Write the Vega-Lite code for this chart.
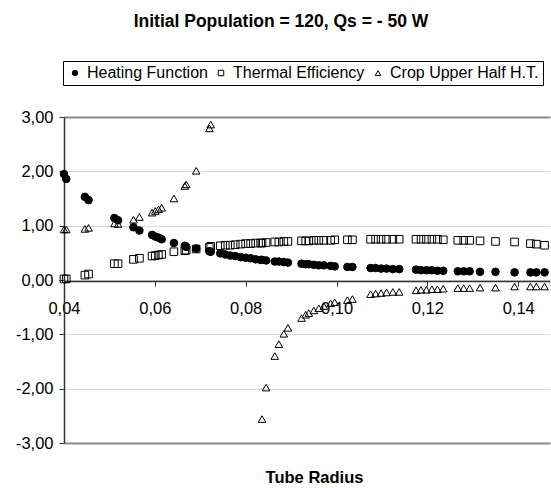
{
  "$schema": "https://vega.github.io/schema/vega-lite/v6.json",
  "width": 486,
  "height": 326,
  "autosize": {"type": "none"},
  "padding": {"left": 64, "top": 117, "right": 1, "bottom": 45},
  "title": {"text": "Initial Population = 120, Qs = - 50 W", "anchor": "middle", "frame": "group", "dx": -26, "offset": 30, "fontSize": 17.5, "fontWeight": "bold", "font": "Liberation Sans", "color": "#000"},
  "data": {"values": [
    {"x":0.0400,"s":"Heating Function","y":1.95},{"x":0.0400,"s":"Thermal Efficiency","y":0.02},{"x":0.0400,"s":"Crop Upper Half H.T.","y":0.93},
    {"x":0.0405,"s":"Heating Function","y":1.86},{"x":0.0405,"s":"Thermal Efficiency","y":0.02},{"x":0.0405,"s":"Crop Upper Half H.T.","y":0.93},
    {"x":0.0446,"s":"Heating Function","y":1.53},{"x":0.0446,"s":"Thermal Efficiency","y":0.09},{"x":0.0446,"s":"Crop Upper Half H.T.","y":0.94},
    {"x":0.0454,"s":"Heating Function","y":1.47},{"x":0.0454,"s":"Thermal Efficiency","y":0.11},{"x":0.0454,"s":"Crop Upper Half H.T.","y":0.96},
    {"x":0.0511,"s":"Heating Function","y":1.14},{"x":0.0511,"s":"Thermal Efficiency","y":0.30},{"x":0.0511,"s":"Crop Upper Half H.T.","y":1.04},
    {"x":0.0519,"s":"Heating Function","y":1.10},{"x":0.0519,"s":"Thermal Efficiency","y":0.30},{"x":0.0519,"s":"Crop Upper Half H.T.","y":1.03},
    {"x":0.0553,"s":"Heating Function","y":0.97},{"x":0.0553,"s":"Thermal Efficiency","y":0.38},{"x":0.0553,"s":"Crop Upper Half H.T.","y":1.11},
    {"x":0.0566,"s":"Heating Function","y":0.91},{"x":0.0566,"s":"Thermal Efficiency","y":0.40},{"x":0.0566,"s":"Crop Upper Half H.T.","y":1.16},
    {"x":0.0594,"s":"Heating Function","y":0.83},{"x":0.0594,"s":"Thermal Efficiency","y":0.44},{"x":0.0594,"s":"Crop Upper Half H.T.","y":1.24},
    {"x":0.0601,"s":"Heating Function","y":0.80},{"x":0.0601,"s":"Thermal Efficiency","y":0.45},{"x":0.0601,"s":"Crop Upper Half H.T.","y":1.27},
    {"x":0.0608,"s":"Heating Function","y":0.78},{"x":0.0608,"s":"Thermal Efficiency","y":0.46},{"x":0.0608,"s":"Crop Upper Half H.T.","y":1.30},
    {"x":0.0615,"s":"Heating Function","y":0.75},{"x":0.0615,"s":"Thermal Efficiency","y":0.47},{"x":0.0615,"s":"Crop Upper Half H.T.","y":1.33},
    {"x":0.0642,"s":"Heating Function","y":0.68},{"x":0.0642,"s":"Thermal Efficiency","y":0.52},{"x":0.0642,"s":"Crop Upper Half H.T.","y":1.50},
    {"x":0.0666,"s":"Heating Function","y":0.63},{"x":0.0666,"s":"Thermal Efficiency","y":0.54},{"x":0.0666,"s":"Crop Upper Half H.T.","y":1.73},
    {"x":0.0669,"s":"Heating Function","y":0.61},{"x":0.0669,"s":"Thermal Efficiency","y":0.55},{"x":0.0669,"s":"Crop Upper Half H.T.","y":1.76},
    {"x":0.0691,"s":"Heating Function","y":0.58},{"x":0.0691,"s":"Thermal Efficiency","y":0.57},{"x":0.0691,"s":"Crop Upper Half H.T.","y":2.01},
    {"x":0.0720,"s":"Heating Function","y":0.53},{"x":0.0720,"s":"Thermal Efficiency","y":0.60},{"x":0.0720,"s":"Crop Upper Half H.T.","y":2.79},
    {"x":0.0723,"s":"Heating Function","y":0.52},{"x":0.0723,"s":"Thermal Efficiency","y":0.62},{"x":0.0723,"s":"Crop Upper Half H.T.","y":2.86},
    {"x":0.0744,"s":"Heating Function","y":0.49},{"x":0.0744,"s":"Thermal Efficiency","y":0.63},
    {"x":0.0755,"s":"Heating Function","y":0.47},{"x":0.0755,"s":"Thermal Efficiency","y":0.64},
    {"x":0.0766,"s":"Heating Function","y":0.45},{"x":0.0766,"s":"Thermal Efficiency","y":0.64},
    {"x":0.0777,"s":"Heating Function","y":0.44},{"x":0.0777,"s":"Thermal Efficiency","y":0.65},
    {"x":0.0789,"s":"Heating Function","y":0.42},{"x":0.0789,"s":"Thermal Efficiency","y":0.66},
    {"x":0.0800,"s":"Heating Function","y":0.41},{"x":0.0800,"s":"Thermal Efficiency","y":0.67},
    {"x":0.0811,"s":"Heating Function","y":0.40},{"x":0.0811,"s":"Thermal Efficiency","y":0.67},
    {"x":0.0822,"s":"Heating Function","y":0.38},{"x":0.0822,"s":"Thermal Efficiency","y":0.68},
    {"x":0.0833,"s":"Heating Function","y":0.37},{"x":0.0833,"s":"Thermal Efficiency","y":0.68},
    {"x":0.0836,"s":"Heating Function","y":0.37},{"x":0.0836,"s":"Thermal Efficiency","y":0.68},{"x":0.0836,"s":"Crop Upper Half H.T.","y":-2.56},
    {"x":0.0845,"s":"Heating Function","y":0.36},{"x":0.0845,"s":"Thermal Efficiency","y":0.69},{"x":0.0845,"s":"Crop Upper Half H.T.","y":-1.98},
    {"x":0.0864,"s":"Heating Function","y":0.34},{"x":0.0864,"s":"Thermal Efficiency","y":0.70},{"x":0.0864,"s":"Crop Upper Half H.T.","y":-1.40},
    {"x":0.0873,"s":"Heating Function","y":0.34},{"x":0.0873,"s":"Thermal Efficiency","y":0.70},{"x":0.0873,"s":"Crop Upper Half H.T.","y":-1.18},
    {"x":0.0884,"s":"Heating Function","y":0.33},{"x":0.0884,"s":"Thermal Efficiency","y":0.71},{"x":0.0884,"s":"Crop Upper Half H.T.","y":-0.99},
    {"x":0.0893,"s":"Heating Function","y":0.32},{"x":0.0893,"s":"Thermal Efficiency","y":0.71},{"x":0.0893,"s":"Crop Upper Half H.T.","y":-0.88},
    {"x":0.0923,"s":"Heating Function","y":0.30},{"x":0.0923,"s":"Thermal Efficiency","y":0.72},{"x":0.0923,"s":"Crop Upper Half H.T.","y":-0.70},
    {"x":0.0932,"s":"Heating Function","y":0.29},{"x":0.0932,"s":"Thermal Efficiency","y":0.72},{"x":0.0932,"s":"Crop Upper Half H.T.","y":-0.64},
    {"x":0.0939,"s":"Heating Function","y":0.29},{"x":0.0939,"s":"Thermal Efficiency","y":0.72},{"x":0.0939,"s":"Crop Upper Half H.T.","y":-0.61},
    {"x":0.0950,"s":"Heating Function","y":0.28},{"x":0.0950,"s":"Thermal Efficiency","y":0.73},{"x":0.0950,"s":"Crop Upper Half H.T.","y":-0.56},
    {"x":0.0961,"s":"Heating Function","y":0.27},{"x":0.0961,"s":"Thermal Efficiency","y":0.73},{"x":0.0961,"s":"Crop Upper Half H.T.","y":-0.52},
    {"x":0.0972,"s":"Heating Function","y":0.27},{"x":0.0972,"s":"Thermal Efficiency","y":0.73},{"x":0.0972,"s":"Crop Upper Half H.T.","y":-0.48},
    {"x":0.0987,"s":"Heating Function","y":0.26},{"x":0.0987,"s":"Thermal Efficiency","y":0.73},{"x":0.0987,"s":"Crop Upper Half H.T.","y":-0.43},
    {"x":0.0996,"s":"Heating Function","y":0.25},{"x":0.0996,"s":"Thermal Efficiency","y":0.74},{"x":0.0996,"s":"Crop Upper Half H.T.","y":-0.41},
    {"x":0.1024,"s":"Heating Function","y":0.24},{"x":0.1024,"s":"Thermal Efficiency","y":0.74},{"x":0.1024,"s":"Crop Upper Half H.T.","y":-0.37},
    {"x":0.1035,"s":"Heating Function","y":0.24},{"x":0.1035,"s":"Thermal Efficiency","y":0.74},{"x":0.1035,"s":"Crop Upper Half H.T.","y":-0.35},
    {"x":0.1075,"s":"Heating Function","y":0.22},{"x":0.1075,"s":"Thermal Efficiency","y":0.75},{"x":0.1075,"s":"Crop Upper Half H.T.","y":-0.26},
    {"x":0.1086,"s":"Heating Function","y":0.22},{"x":0.1086,"s":"Thermal Efficiency","y":0.75},{"x":0.1086,"s":"Crop Upper Half H.T.","y":-0.25},
    {"x":0.1098,"s":"Heating Function","y":0.21},{"x":0.1098,"s":"Thermal Efficiency","y":0.75},{"x":0.1098,"s":"Crop Upper Half H.T.","y":-0.24},
    {"x":0.1110,"s":"Heating Function","y":0.21},{"x":0.1110,"s":"Thermal Efficiency","y":0.75},{"x":0.1110,"s":"Crop Upper Half H.T.","y":-0.23},
    {"x":0.1124,"s":"Heating Function","y":0.20},{"x":0.1124,"s":"Thermal Efficiency","y":0.75},{"x":0.1124,"s":"Crop Upper Half H.T.","y":-0.22},
    {"x":0.1138,"s":"Heating Function","y":0.20},{"x":0.1138,"s":"Thermal Efficiency","y":0.75},{"x":0.1138,"s":"Crop Upper Half H.T.","y":-0.22},
    {"x":0.1175,"s":"Heating Function","y":0.19},{"x":0.1175,"s":"Thermal Efficiency","y":0.75},{"x":0.1175,"s":"Crop Upper Half H.T.","y":-0.19},
    {"x":0.1186,"s":"Heating Function","y":0.18},{"x":0.1186,"s":"Thermal Efficiency","y":0.75},{"x":0.1186,"s":"Crop Upper Half H.T.","y":-0.18},
    {"x":0.1198,"s":"Heating Function","y":0.18},{"x":0.1198,"s":"Thermal Efficiency","y":0.75},{"x":0.1198,"s":"Crop Upper Half H.T.","y":-0.18},
    {"x":0.1210,"s":"Heating Function","y":0.18},{"x":0.1210,"s":"Thermal Efficiency","y":0.75},{"x":0.1210,"s":"Crop Upper Half H.T.","y":-0.17},
    {"x":0.1222,"s":"Heating Function","y":0.17},{"x":0.1222,"s":"Thermal Efficiency","y":0.75},{"x":0.1222,"s":"Crop Upper Half H.T.","y":-0.17},
    {"x":0.1235,"s":"Heating Function","y":0.17},{"x":0.1235,"s":"Thermal Efficiency","y":0.74},{"x":0.1235,"s":"Crop Upper Half H.T.","y":-0.16},
    {"x":0.1267,"s":"Heating Function","y":0.16},{"x":0.1267,"s":"Thermal Efficiency","y":0.73},{"x":0.1267,"s":"Crop Upper Half H.T.","y":-0.15},
    {"x":0.1280,"s":"Heating Function","y":0.16},{"x":0.1280,"s":"Thermal Efficiency","y":0.73},{"x":0.1280,"s":"Crop Upper Half H.T.","y":-0.15},
    {"x":0.1293,"s":"Heating Function","y":0.16},{"x":0.1293,"s":"Thermal Efficiency","y":0.73},{"x":0.1293,"s":"Crop Upper Half H.T.","y":-0.15},
    {"x":0.1316,"s":"Heating Function","y":0.15},{"x":0.1316,"s":"Thermal Efficiency","y":0.72},{"x":0.1316,"s":"Crop Upper Half H.T.","y":-0.14},
    {"x":0.1350,"s":"Heating Function","y":0.15},{"x":0.1350,"s":"Thermal Efficiency","y":0.71},{"x":0.1350,"s":"Crop Upper Half H.T.","y":-0.14},
    {"x":0.1392,"s":"Heating Function","y":0.14},{"x":0.1392,"s":"Thermal Efficiency","y":0.70},{"x":0.1392,"s":"Crop Upper Half H.T.","y":-0.12},
    {"x":0.1427,"s":"Heating Function","y":0.14},{"x":0.1427,"s":"Thermal Efficiency","y":0.67},{"x":0.1427,"s":"Crop Upper Half H.T.","y":-0.12},
    {"x":0.1440,"s":"Heating Function","y":0.14},{"x":0.1440,"s":"Thermal Efficiency","y":0.66},{"x":0.1440,"s":"Crop Upper Half H.T.","y":-0.12},
    {"x":0.1458,"s":"Heating Function","y":0.14},{"x":0.1458,"s":"Thermal Efficiency","y":0.64},{"x":0.1458,"s":"Crop Upper Half H.T.","y":-0.12}
  ]},
  "mark": {"type": "point", "strokeWidth": 1, "opacity": 1, "size": 58, "clip": false},
  "encoding": {
    "x": {"field": "x", "type": "quantitative",
      "scale": {"domain": [0.04, 0.147], "nice": false, "zero": false},
      "axis": {"values": [0.04, 0.06, 0.08, 0.1, 0.12, 0.14], "offset": -162, "grid": false,
        "labelExpr": "replace(format(datum.value,'.2f'),'.',',')",
        "labelFlush": false, "labelOverlap": false, "labelFontSize": 16.5, "labelFont": "Liberation Sans", "labelColor": "#000", "labelPadding": 14,
        "tickSize": 5, "tickColor": "#333", "domainColor": "#333", "domainWidth": 1.5,
        "title": "Tube Radius", "titleFont": "Liberation Sans", "titleFontSize": 16.5, "titleFontWeight": "bold", "titleColor": "#000",
        "titleX": 250, "titleY": 196, "titleBaseline": "middle", "titleAlign": "center"}},
    "y": {"field": "y", "type": "quantitative",
      "scale": {"domain": [-3, 3], "nice": false},
      "axis": {"values": [-3, -2, -1, 0, 1, 2, 3], "title": null,
        "labelExpr": "replace(replace(format(datum.value,'.2f'),'.',','),'−','-')",
        "labelFontSize": 16.5, "labelFont": "Liberation Sans", "labelColor": "#000", "labelPadding": 6,
        "tickSize": 5, "tickColor": "#333", "domainColor": "#333", "domainWidth": 1.5,
        "grid": true,
        "gridColor": {"condition": {"test": "abs(datum.value) == 3", "value": "#888"}, "value": "#d9d9d9"},
        "gridWidth": {"condition": {"test": "abs(datum.value) == 3", "value": 1.8}, "value": 1}}},
    "shape": {"field": "s", "type": "nominal",
      "scale": {"domain": ["Heating Function", "Thermal Efficiency", "Crop Upper Half H.T."], "range": ["circle", "square", "triangle-up"]},
      "legend": {"title": null, "orient": "none", "legendX": -1, "legendY": -56, "direction": "horizontal",
        "strokeColor": "#000", "padding": 4, "symbolSize": 30, "symbolStrokeWidth": 1,
        "labelFontSize": 16, "labelFont": "Liberation Sans", "labelColor": "#000", "labelOffset": 4, "columnPadding": 5, "labelLimit": 400}},
    "fill": {"field": "s", "type": "nominal",
      "scale": {"domain": ["Heating Function", "Thermal Efficiency", "Crop Upper Half H.T."], "range": ["#000", "transparent", "transparent"]},
      "legend": {"title": null, "orient": "none", "legendX": -1, "legendY": -56, "direction": "horizontal",
        "strokeColor": "#000", "padding": 4, "symbolSize": 30, "symbolStrokeWidth": 1,
        "labelFontSize": 16, "labelFont": "Liberation Sans", "labelColor": "#000", "labelOffset": 4, "columnPadding": 5, "labelLimit": 400}},
    "stroke": {"field": "s", "type": "nominal",
      "scale": {"domain": ["Heating Function", "Thermal Efficiency", "Crop Upper Half H.T."], "range": ["#000", "#000", "#000"]},
      "legend": {"title": null, "orient": "none", "legendX": -1, "legendY": -56, "direction": "horizontal",
        "strokeColor": "#000", "padding": 4, "symbolSize": 30, "symbolStrokeWidth": 1,
        "labelFontSize": 16, "labelFont": "Liberation Sans", "labelColor": "#000", "labelOffset": 4, "columnPadding": 5, "labelLimit": 400}}
  },
  "config": {"view": {"stroke": null}, "font": "Liberation Sans"}
}
